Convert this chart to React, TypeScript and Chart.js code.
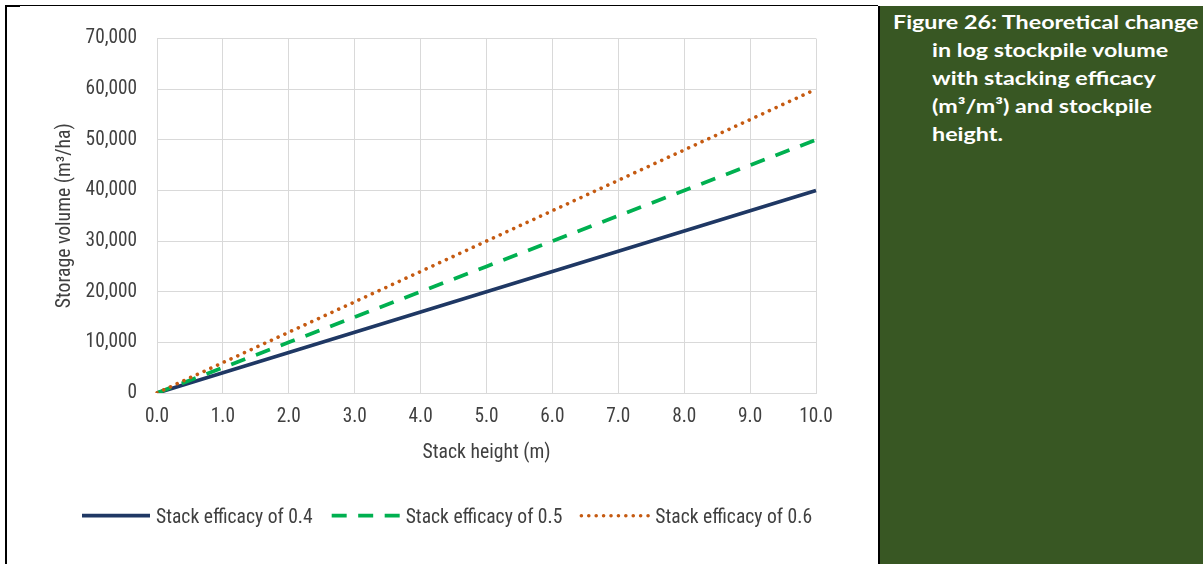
import React, { useEffect, useRef } from "react";
import { Chart, registerables } from "chart.js";

Chart.register(...registerables);

// ---------- data ----------
const stackHeights = ["0.0", "1.0", "2.0", "3.0", "4.0", "5.0", "6.0", "7.0", "8.0", "9.0", "10.0"];
const efficacy04 = [0, 4000, 8000, 12000, 16000, 20000, 24000, 28000, 32000, 36000, 40000];
const efficacy05 = [0, 5000, 10000, 15000, 20000, 25000, 30000, 35000, 40000, 45000, 50000];
const efficacy06 = [0, 6000, 12000, 18000, 24000, 30000, 36000, 42000, 48000, 54000, 60000];
const seriesNames = ["Stack efficacy of 0.4", "Stack efficacy of 0.5", "Stack efficacy of 0.6"];
const yTickLabels = ["0", "10,000", "20,000", "30,000", "40,000", "50,000", "60,000", "70,000"];
const xAxisTitle = "Stack height (m)";
const yAxisTitle = "Storage volume (m³/ha)";
const captionLines = [
  "Figure 26: Theoretical change",
  "in log stockpile volume",
  "with stacking efficacy",
  "(m³/m³) and stockpile",
  "height.",
];

// ---------- styles ----------
const FONT = "Roboto, 'Liberation Sans', Arial, sans-serif";
const STRETCH = "condensed"; // injected into the canvas font shorthand
const TEXT = "#404040";
const GRID = "#d9d9d9";

const legendPlugin = {
  id: "customLegend",
  afterDraw(chart: any) {
    const ctx = chart.ctx as CanvasRenderingContext2D;
    const KEY_W = 68;
    const GAP = 6;
    const ITEM_GAP = 19;
    const y = 508.7;
    let x = 75;
    ctx.save();
    ctx.font = `normal ${STRETCH} 19.6px ${FONT}`;
    chart.data.datasets.forEach((ds: any) => {
      ctx.beginPath();
      ctx.setLineDash(ds.borderDash || []);
      ctx.lineCap = ds.borderCapStyle || "butt";
      ctx.lineWidth = ds.borderWidth;
      ctx.strokeStyle = ds.borderColor;
      ctx.moveTo(x, y);
      ctx.lineTo(x + KEY_W, y);
      ctx.stroke();
      ctx.setLineDash([]);
      ctx.fillStyle = TEXT;
      ctx.textBaseline = "alphabetic";
      ctx.textAlign = "left";
      ctx.fillText(ds.label, x + KEY_W + GAP, y + 7.2);
      x += KEY_W + GAP + ctx.measureText(ds.label).width + ITEM_GAP;
    });
    ctx.restore();
  },
};

function StockChart() {
  const ref = useRef<HTMLCanvasElement | null>(null);
  useEffect(() => {
    if (!ref.current) return;
    const tickFont = { family: FONT, size: 19.3, weight: STRETCH };
    const titleFont = { family: FONT, size: 19.7, weight: STRETCH };
    const chart = new Chart(ref.current, {
      type: "line",
      data: {
        labels: stackHeights,
        datasets: [
          {
            label: seriesNames[0],
            data: efficacy04,
            borderColor: "#1F3864",
            backgroundColor: "#1F3864",
            borderWidth: 3.75,
            pointRadius: 0,
            tension: 0,
            fill: false,
            order: 3,
          },
          {
            label: seriesNames[1],
            data: efficacy05,
            borderColor: "#00B050",
            backgroundColor: "#00B050",
            borderWidth: 3.75,
            borderDash: [15, 11.5],
            pointRadius: 0,
            tension: 0,
            fill: false,
            order: 2,
          },
          {
            label: seriesNames[2],
            data: efficacy06,
            borderColor: "#C55A11",
            backgroundColor: "#C55A11",
            borderWidth: 3.6,
            borderDash: [0.01, 7.4],
            borderCapStyle: "round",
            pointRadius: 0,
            tension: 0,
            fill: false,
            order: 1,
          },
        ],
      } as any,
      options: {
        responsive: false,
        animation: false,
        layout: { padding: { left: 0, right: 62, top: 29, bottom: 91 } },
        plugins: { legend: { display: false }, tooltip: { enabled: false } },
        scales: {
          x: {
            type: "category",
            offset: false,
            grid: { color: GRID, lineWidth: 1, drawTicks: false, offset: false },
            border: { color: GRID },
            ticks: {
              color: TEXT,
              font: tickFont,
              padding: 13,
              maxRotation: 0,
              autoSkip: false,
            },
            title: {
              display: true,
              text: xAxisTitle,
              color: TEXT,
              font: titleFont,
              padding: { top: 0, bottom: 8 },
            },
            afterFit: (s: any) => {
              s.height = 80;
            },
          },
          y: {
            min: 0,
            max: 70000,
            grid: { color: GRID, lineWidth: 1, drawTicks: false },
            border: { color: GRID },
            ticks: {
              stepSize: 10000,
              color: TEXT,
              font: tickFont,
              padding: 20,
              callback: (_v: any, i: number) => yTickLabels[i],
            },
            title: {
              display: true,
              text: yAxisTitle,
              color: TEXT,
              font: titleFont,
              padding: { top: 46, bottom: 0 },
            },
            afterFit: (s: any) => {
              s.width = 150;
            },
          },
        },
      } as any,
      plugins: [legendPlugin],
    });
    return () => chart.destroy();
  }, []);
  return <canvas ref={ref} width={871} height={557} style={{ position: "absolute", left: 7, top: 7, width: 871, height: 557 }} />;
}

export default function App() {
  return (
    <div style={{ position: "absolute", left: 0, top: 0, width: 1203, height: 564, overflow: "hidden", background: "#fff" }}>
      <div style={{ position: "absolute", left: 5, top: 5, width: 873, height: 1, background: "#000" }} />
      <div style={{ position: "absolute", left: 5, top: 5, width: 15, height: 2, background: "#000" }} />
      <div style={{ position: "absolute", left: 5, top: 5, width: 2, height: 559, background: "#000" }} />
      <StockChart />
      <div
        style={{
          position: "absolute",
          left: 878,
          top: 6,
          width: 325,
          height: 558,
          background: "#385723",
          borderLeft: "2px solid #000",
          boxSizing: "border-box",
          overflow: "hidden",
        }}
      >
        {captionLines.map((line, i) => (
          <div
            key={i}
            style={{
              position: "absolute",
              left: i === 0 ? 13 : 52,
              top: 2 + i * 28,
              color: "#fff",
              fontFamily: "Lato, 'Open Sans', sans-serif",
              fontWeight: 700,
              fontSize: 19,
              lineHeight: "28px",
              whiteSpace: "nowrap",
              transform: "scaleX(1.225)",
              transformOrigin: "0 0",
            }}
          >
            {line}
          </div>
        ))}
      </div>
    </div>
  );
}
